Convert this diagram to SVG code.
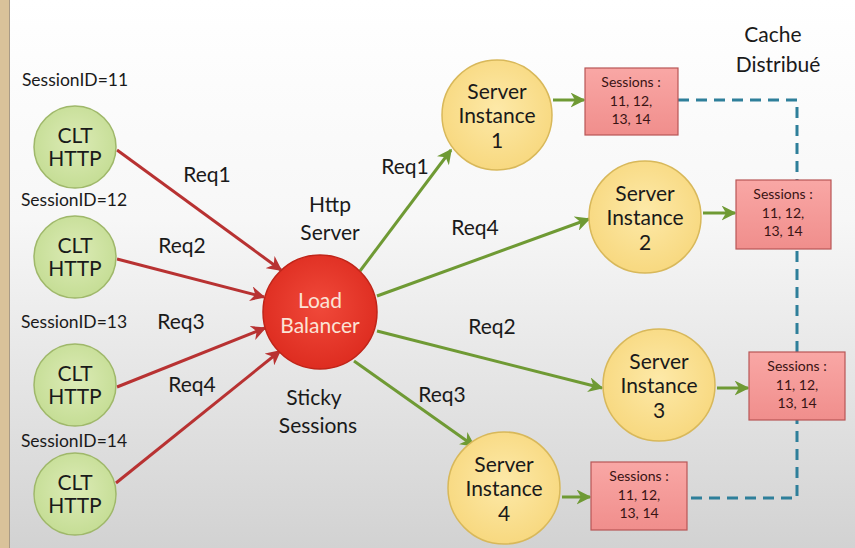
<svg xmlns="http://www.w3.org/2000/svg" width="855" height="548" viewBox="0 0 855 548">
<defs>
<linearGradient id="bg" x1="0" y1="0" x2="0" y2="1">
<stop offset="0" stop-color="#ffffff"/>
<stop offset="0.4" stop-color="#f7f7f7"/>
<stop offset="1" stop-color="#d2d2d2"/>
</linearGradient>
<radialGradient id="gClt" cx="0.5" cy="0.45" r="0.6">
<stop offset="0" stop-color="#dcebb6"/>
<stop offset="1" stop-color="#c3dc92"/>
</radialGradient>
<radialGradient id="gSrv" cx="0.5" cy="0.45" r="0.6">
<stop offset="0" stop-color="#fde9a8"/>
<stop offset="1" stop-color="#f7d77c"/>
</radialGradient>
<radialGradient id="gLb" cx="0.5" cy="0.45" r="0.6">
<stop offset="0" stop-color="#f0493a"/>
<stop offset="1" stop-color="#dc2a1e"/>
</radialGradient>
<linearGradient id="gBox" x1="0" y1="0" x2="0" y2="1">
<stop offset="0" stop-color="#f9a7a5"/>
<stop offset="1" stop-color="#f08e8c"/>
</linearGradient>
<marker id="mRed" viewBox="0 0 10 10" refX="9" refY="5" markerWidth="5" markerHeight="5" orient="auto" markerUnits="strokeWidth">
<path d="M0,0 L10,5 L0,10 L3,5 z" fill="#b83232"/>
</marker>
<marker id="mGreen" viewBox="0 0 10 10" refX="9" refY="5" markerWidth="5" markerHeight="5" orient="auto" markerUnits="strokeWidth">
<path d="M0,0 L10,5 L0,10 L3,5 z" fill="#6f9a34"/>
</marker>
</defs>
<style>
text { font-family: Lato, "Open Sans", "Liberation Sans", sans-serif; fill: #1a1a1a; text-anchor: middle; }
.lbl { font-size: 21px; }
.sid { font-size: 17.5px; }
.node { font-size: 21px; }
.box { font-size: 14px; fill: #3a1414; }
.clt { fill: url(#gClt); stroke: #9fb86a; stroke-width: 1.5; }
.srv { fill: url(#gSrv); stroke: #d8b85a; stroke-width: 1.5; }
.lb { fill: url(#gLb); stroke: #c02418; stroke-width: 1.5; }
.sess { fill: url(#gBox); stroke: #b85656; stroke-width: 1.2; }
.red { stroke: #b83232; stroke-width: 3; fill: none; marker-end: url(#mRed); }
.green { stroke: #6f9a34; stroke-width: 3; fill: none; marker-end: url(#mGreen); }
.dash { stroke: #2e7f9a; stroke-width: 3; fill: none; stroke-dasharray: 11 7; }
</style>
<rect x="0" y="0" width="855" height="548" fill="url(#bg)"/>
<rect x="0" y="0" width="9" height="548" fill="#d9c29a"/>
<line x1="9.5" y1="0" x2="9.5" y2="548" stroke="#a89a86" stroke-width="1"/>

<g id="connectors">
<path class="dash" d="M678,100 H797 V498 H687"/>
<line class="red" x1="117" y1="150" x2="281" y2="270"/>
<line class="red" x1="117" y1="259" x2="264" y2="297"/>
<line class="red" x1="117" y1="387" x2="265" y2="328"/>
<line class="red" x1="116" y1="483" x2="280" y2="351"/>
<line class="green" x1="360" y1="271" x2="451" y2="150"/>
<line class="green" x1="377" y1="296" x2="589" y2="219"/>
<line class="green" x1="377" y1="331" x2="602" y2="388"/>
<line class="green" x1="354" y1="361" x2="474" y2="446"/>
<line class="green" x1="553" y1="100" x2="584" y2="100"/>
<line class="green" x1="703" y1="213" x2="735" y2="213"/>
<line class="green" x1="717" y1="388" x2="748" y2="388"/>
<line class="green" x1="562" y1="497" x2="590" y2="497"/>
<text class="lbl" x="207" y="182">Req1</text>
<text class="lbl" x="182" y="253">Req2</text>
<text class="lbl" x="181" y="329">Req3</text>
<text class="lbl" x="192" y="392">Req4</text>
<text class="lbl" x="405" y="174">Req1</text>
<text class="lbl" x="475" y="235">Req4</text>
<text class="lbl" x="492" y="334">Req2</text>
<text class="lbl" x="442" y="402">Req3</text>
</g>

<g id="labels">
<text class="sid" x="75" y="86">SessionID=11</text>
<text class="sid" x="74" y="206">SessionID=12</text>
<text class="sid" x="74" y="328">SessionID=13</text>
<text class="sid" x="74" y="447">SessionID=14</text>
<text class="lbl" x="330" y="212">Http</text>
<text class="lbl" x="330" y="240">Server</text>
<text class="lbl" x="314" y="405">Sticky</text>
<text class="lbl" x="318" y="433">Sessions</text>
<text class="lbl" x="773" y="42">Cache</text>
<text class="lbl" x="778" y="72">Distribué</text>
</g>

<g id="clt1"><circle class="clt" cx="75" cy="147" r="41"/><text class="node" x="75" y="143">CLT</text><text class="node" x="75" y="166">HTTP</text></g>
<g id="clt2"><circle class="clt" cx="75" cy="257" r="41"/><text class="node" x="75" y="253">CLT</text><text class="node" x="75" y="276">HTTP</text></g>
<g id="clt3"><circle class="clt" cx="75" cy="385" r="41"/><text class="node" x="75" y="381">CLT</text><text class="node" x="75" y="404">HTTP</text></g>
<g id="clt4"><circle class="clt" cx="75" cy="494" r="41"/><text class="node" x="75" y="490">CLT</text><text class="node" x="75" y="513">HTTP</text></g>

<g id="lb"><circle class="lb" cx="320" cy="312" r="57"/><text class="node" x="320" y="308" style="fill:#fbe3d6">Load</text><text class="node" x="320" y="333" style="fill:#fbe3d6">Balancer</text></g>

<g id="srv1"><circle class="srv" cx="497" cy="115" r="55"/><text class="node" x="497" y="99">Server</text><text class="node" x="497" y="123">Instance</text><text class="node" x="497" y="148">1</text></g>
<g id="srv2"><circle class="srv" cx="645" cy="217" r="56"/><text class="node" x="645" y="201">Server</text><text class="node" x="645" y="225">Instance</text><text class="node" x="645" y="250">2</text></g>
<g id="srv3"><circle class="srv" cx="659" cy="385" r="56"/><text class="node" x="659" y="369">Server</text><text class="node" x="659" y="393">Instance</text><text class="node" x="659" y="418">3</text></g>
<g id="srv4"><circle class="srv" cx="504" cy="488" r="56"/><text class="node" x="504" y="472">Server</text><text class="node" x="504" y="496">Instance</text><text class="node" x="504" y="521">4</text></g>

<g id="sess1"><rect class="sess" x="585" y="68" width="93" height="67"/><text class="box" x="631" y="87">Sessions :</text><text class="box" x="631" y="106">11, 12,</text><text class="box" x="631" y="124">13, 14</text></g>
<g id="sess2"><rect class="sess" x="736" y="180" width="95" height="69"/><text class="box" x="783" y="199">Sessions :</text><text class="box" x="783" y="218">11, 12,</text><text class="box" x="783" y="236">13, 14</text></g>
<g id="sess3"><rect class="sess" x="749" y="352" width="96" height="68"/><text class="box" x="797" y="371">Sessions :</text><text class="box" x="797" y="390">11, 12,</text><text class="box" x="797" y="408">13, 14</text></g>
<g id="sess4"><rect class="sess" x="591" y="462" width="96" height="68"/><text class="box" x="639" y="481">Sessions :</text><text class="box" x="639" y="500">11, 12,</text><text class="box" x="639" y="518">13, 14</text></g>
</svg>
